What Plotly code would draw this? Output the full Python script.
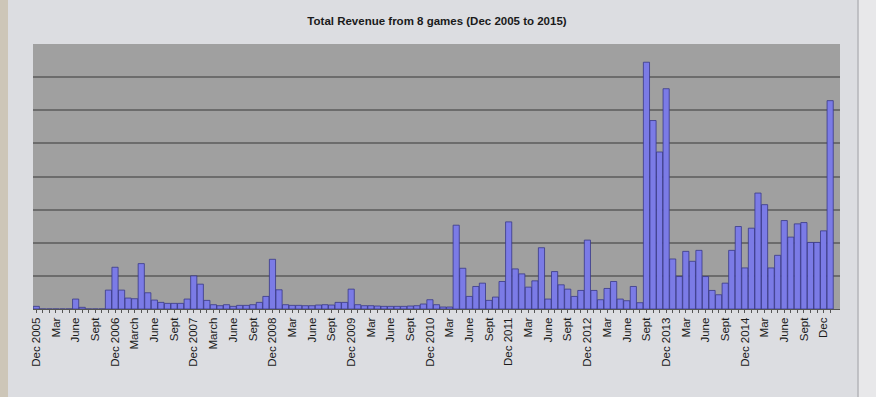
import plotly.graph_objects as go
import pandas as pd

# ---- data ----
months = [p.strftime("%b %Y") for p in pd.period_range("2005-12", "2016-01", freq="M")]

revenue = [
    0.08, 0.0, 0.0, 0.0, 0.0, 0.0, 0.30, 0.05, 0.0, 0.0, 0.0, 0.57,   # Dec05-Nov06
    1.26, 0.57, 0.33, 0.31, 1.37, 0.49, 0.27, 0.20, 0.17, 0.17, 0.17, 0.30,  # Dec06-Nov07
    1.00, 0.75, 0.26, 0.13, 0.10, 0.13, 0.08, 0.11, 0.11, 0.13, 0.20, 0.38,  # Dec07-Nov08
    1.50, 0.58, 0.13, 0.11, 0.11, 0.10, 0.10, 0.12, 0.13, 0.12, 0.20, 0.20,  # Dec08-Nov09
    0.60, 0.13, 0.10, 0.10, 0.09, 0.08, 0.08, 0.08, 0.08, 0.09, 0.10, 0.15,  # Dec09-Nov10
    0.28, 0.13, 0.06, 0.06, 2.53, 1.23, 0.38, 0.68, 0.78, 0.26, 0.36, 0.83,  # Dec10-Nov11
    2.63, 1.21, 1.06, 0.66, 0.85, 1.85, 0.30, 1.13, 0.73, 0.60, 0.38, 0.56,  # Dec11-Nov12
    2.08, 0.56, 0.28, 0.62, 0.83, 0.30, 0.25, 0.68, 0.19, 7.45, 5.69, 4.74,  # Dec12-Nov13
    6.65, 1.51, 0.98, 1.74, 1.44, 1.77, 0.98, 0.56, 0.43, 0.78, 1.77, 2.49,  # Dec13-Nov14
    1.24, 2.44, 3.50, 3.15, 1.24, 1.62, 2.67, 2.17, 2.57, 2.61, 2.01, 2.01,  # Dec14-Nov15
    2.36, 6.29,                                                              # Dec15-Jan16
]

tick_labels = [
    "Dec 2005", "Mar", "June", "Sept",
    "Dec 2006", "March", "June", "Sept",
    "Dec 2007", "March", "June", "Sept",
    "Dec 2008", "Mar", "June", "Sept",
    "Dec 2009", "Mar", "June", "Sept",
    "Dec 2010", "Mar", "June", "Sept",
    "Dec 2011", "Mar", "June", "Sept",
    "Dec 2012", "Mar", "June", "Sept",
    "Dec 2013", "Mar", "June", "Sept",
    "Dec 2014", "Mar", "June", "Sept",
    "Dec",
]

title_text = "Total Revenue from 8 games (Dec 2005 to 2015)"

# every category gets a tick; every third one a label
ticktext = []
k = 0
for i, m in enumerate(months):
    if i % 3 == 0 and k < len(tick_labels):
        ticktext.append(tick_labels[k])
        k += 1
    else:
        ticktext.append("")

W, H = 876, 397
L, R, T, B = 33, 36, 44, 88
pw = W - L - R
ph = H - T - B


def px(x):
    return (x - L) / pw


def py(y):
    return 1 - (y - T) / ph


fig = go.Figure()
fig.add_trace(go.Bar(
    x=months,
    y=revenue,
    marker=dict(color="#7b7be6", line=dict(color="#383888", width=0.8)),
    hoverinfo="x+y",
))

shapes = [
    dict(type="rect", xref="paper", yref="paper", x0=px(0), x1=px(8), y0=py(0), y1=py(H),
         fillcolor="#cdc6b8", line=dict(width=0), layer="below"),
    dict(type="rect", xref="paper", yref="paper", x0=px(858), x1=px(W), y0=py(0), y1=py(H),
         fillcolor="#e8e8ea", line=dict(width=0), layer="below"),
    dict(type="line", xref="paper", yref="paper", x0=px(858), x1=px(858), y0=py(0), y1=py(H),
         line=dict(color="#b4b4b8", width=1.5)),
]

fig.update_layout(
    width=W, height=H,
    margin=dict(l=L, r=R, t=T, b=B, autoexpand=False),
    paper_bgcolor="#dcdde1",
    plot_bgcolor="#a0a0a0",
    bargap=0.06,
    showlegend=False,
    shapes=shapes,
    title=dict(text="<b>" + title_text + "</b>", x=(437 - L) / pw, xref="paper", xanchor="center",
               y=1 - 21 / H, yanchor="middle",
               font=dict(family="Liberation Sans, Arial, sans-serif", size=11.5, color="#1a1a1a")),
    font=dict(family="Liberation Sans, Arial, sans-serif", color="#1a1a1a"),
)

fig.update_xaxes(
    type="category",
    categoryorder="array", categoryarray=months,
    range=[-0.5, len(months) + 0.5],
    tickmode="array", tickvals=months, ticktext=ticktext,
    tickangle=-90,
    tickfont=dict(size=11.5, color="#1a1a1a"),
    ticks="outside", ticklen=3, tickcolor="#555555",
    showline=True, linecolor="#555555", linewidth=1,
    showgrid=False, zeroline=False,
)

fig.update_yaxes(
    range=[0, 8], dtick=1, tick0=0,
    showticklabels=False, ticks="",
    showgrid=True, gridcolor="#6c6c6c", gridwidth=1.5,
    zeroline=False, showline=False,
)

fig.write_html(
    "out.html",
    config={"displayModeBar": False},
    post_script="document.body.style.margin='0';document.body.style.padding='0';"
                "document.body.style.overflow='hidden';",
)
